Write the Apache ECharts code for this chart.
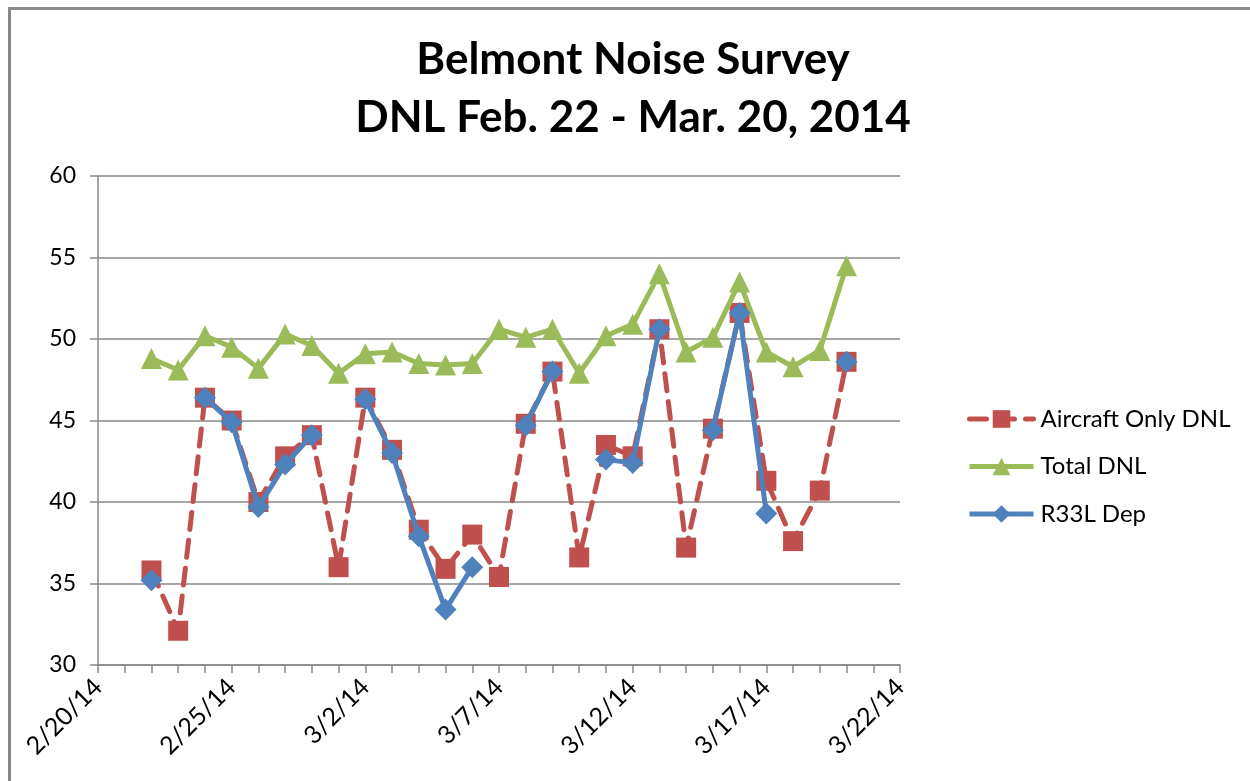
<!DOCTYPE html>
<html>
<head>
<meta charset="utf-8">
<script src="https://cdn.jsdelivr.net/npm/echarts@6/dist/echarts.min.js"></script>
<style>
  html, body { margin: 0; padding: 0; background: #fff; }
  #chart { width: 1250px; height: 781px; }
</style>
</head>
<body>
<div id="chart"></div>
<script>
// daily DNL values, 2/22/14 .. 3/20/14
var dates = ['2/22/14', '2/23/14', '2/24/14', '2/25/14', '2/26/14', '2/27/14', '2/28/14',
  '3/1/14', '3/2/14', '3/3/14', '3/4/14', '3/5/14', '3/6/14', '3/7/14', '3/8/14', '3/9/14',
  '3/10/14', '3/11/14', '3/12/14', '3/13/14', '3/14/14', '3/15/14', '3/16/14', '3/17/14',
  '3/18/14', '3/19/14', '3/20/14'];
var aircraftOnly = [35.8, 32.1, 46.4, 45.0, 40.0, 42.8, 44.1, 36.0, 46.4, 43.2, 38.3, 35.9, 38.0,
  35.4, 44.8, 48.0, 36.6, 43.5, 42.8, 50.6, 37.2, 44.5, 51.6, 41.3, 37.6, 40.7, 48.6];
var totalDnl = [48.8, 48.1, 50.2, 49.5, 48.2, 50.3, 49.6, 47.9, 49.1, 49.2, 48.5, 48.4, 48.5,
  50.6, 50.1, 50.6, 47.9, 50.2, 50.9, 54.0, 49.2, 50.1, 53.5, 49.2, 48.3, 49.3, 54.5];
var r33lDep = [35.2, null, 46.4, 44.9, 39.7, 42.3, 44.1, null, 46.3, 43.0, 37.9, 33.4, 36.0,
  null, 44.7, 48.0, null, 42.6, 42.4, 50.6, null, 44.4, 51.6, 39.3, null, null, 48.6];
var xTickLabels = ['2/20/14', '2/25/14', '3/2/14', '3/7/14', '3/12/14', '3/17/14', '3/22/14'];

// x axis counts days from 2/20/14
var startDay = new Date(2014, 1, 20);
function dayOf(s) {
  var p = s.split('/');
  var d = new Date(2000 + (+p[2]), +p[0] - 1, +p[1]);
  return Math.round((d - startDay) / 86400000);
}
function pairs(vals) {
  return dates.map(function (s, i) { return [dayOf(s), vals[i]]; });
}

var gray = '#898989';
var font = 'Lato, "Open Sans", sans-serif';

var myChart = echarts.init(document.getElementById('chart'));
myChart.setOption({
  animation: false,
  graphic: [{
    type: 'rect',
    left: 7, top: 6,
    shape: { width: 1400, height: 900 },
    style: { fill: 'none', stroke: gray, lineWidth: 3 },
    silent: true
  }],
  title: {
    text: 'Belmont Noise Survey\nDNL Feb. 22 - Mar. 20, 2014',
    left: 628,
    top: 26,
    textAlign: 'center',
    textStyle: {
      fontFamily: font,
      fontSize: 44,
      fontWeight: 'bold',
      color: '#000',
      lineHeight: 58
    }
  },
  grid: {
    left: 98,
    right: 350,
    top: 176,
    bottom: 116
  },
  legend: {
    orient: 'vertical',
    left: 962,
    top: 402,
    itemWidth: 64,
    itemHeight: 22,
    itemGap: 23.5,
    textStyle: { fontFamily: font, fontSize: 24, color: '#000', padding: [0, 0, 0, 2] },
    data: [
      { name: 'Aircraft Only DNL', lineStyle: { width: 5 } },
      { name: 'Total DNL', lineStyle: { width: 5 } },
      { name: 'R33L Dep', lineStyle: { width: 5 } }
    ]
  },
  xAxis: {
    type: 'value',
    min: 0,
    max: 30,
    interval: 5,
    splitLine: { show: false },
    axisLine: { lineStyle: { color: gray, width: 1.5 } },
    axisTick: { length: 8, lineStyle: { color: gray, width: 1.5 } },
    minorTick: { show: true, splitNumber: 5, length: 8, lineStyle: { color: gray, width: 1.5 } },
    axisLabel: {
      rotate: 45,
      margin: 18,
      fontFamily: font,
      fontSize: 25,
      color: '#000',
      formatter: function (v) { return xTickLabels[Math.round(v / 5)]; }
    }
  },
  yAxis: {
    type: 'value',
    min: 30,
    max: 60,
    interval: 5,
    axisLine: { show: true, lineStyle: { color: gray, width: 1.5 } },
    axisTick: { show: true, length: 8, lineStyle: { color: gray, width: 1.5 } },
    splitLine: { lineStyle: { color: gray, width: 1.5 } },
    axisLabel: { margin: 22, fontFamily: font, fontSize: 23, color: '#000' }
  },
  series: [
    {
      name: 'Aircraft Only DNL',
      type: 'line',
      data: pairs(aircraftOnly),
      symbol: 'rect',
      symbolSize: 20,
      itemStyle: { color: '#C0504D' },
      lineStyle: { color: '#C0504D', width: 5, type: [17, 11], cap: 'round' },
      z: 2
    },
    {
      name: 'Total DNL',
      type: 'line',
      data: pairs(totalDnl),
      symbol: 'triangle',
      symbolSize: 21,
      itemStyle: { color: '#9BBB59' },
      lineStyle: { color: '#9BBB59', width: 5 },
      z: 3
    },
    {
      name: 'R33L Dep',
      type: 'line',
      data: pairs(r33lDep),
      connectNulls: false,
      symbol: 'diamond',
      symbolSize: 22,
      itemStyle: { color: '#4F81BD' },
      lineStyle: { color: '#4F81BD', width: 5 },
      z: 4
    }
  ]
});
</script>
</body>
</html>
